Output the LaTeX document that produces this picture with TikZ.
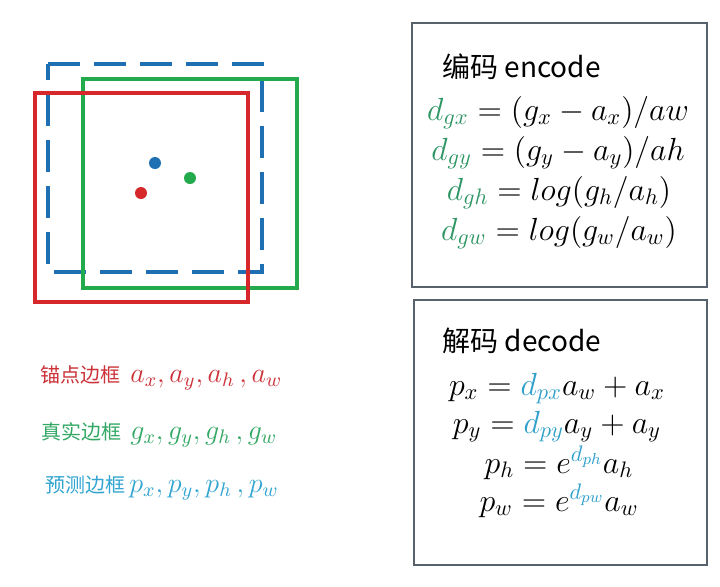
\RequirePackage{fix-cm}
\documentclass[tikz,border=0pt]{standalone}
\usepackage{fontspec}
\newfontfamily\cjk{Noto Sans CJK SC}
\usetikzlibrary{positioning}
\definecolor{anchorcolor}{RGB}{214,40,42}
\definecolor{truthcolor}{RGB}{34,170,76}
\definecolor{predcolor}{RGB}{30,112,178}
\definecolor{anchortext}{RGB}{204,50,56}
\definecolor{truthtext}{RGB}{50,168,100}
\definecolor{predtext}{RGB}{50,165,208}
\definecolor{encgreen}{RGB}{46,150,100}
\definecolor{decblue}{RGB}{46,160,202}
\definecolor{bordercolor}{RGB}{88,98,108}
\tikzset{
    anchorbox/.style={draw=anchorcolor, line width=2pt},
    truthbox/.style={draw=truthcolor, line width=2pt},
    predbox/.style={draw=predcolor, line width=2pt, dash pattern=on 16pt off 7pt},
    centre/.style={circle, inner sep=0pt, minimum size=6pt},
    panel/.style={draw=bordercolor, line width=1pt},
    heading/.style={font=\cjk\fontsize{14}{17}\selectfont, anchor=base west, inner sep=0pt},
    formula/.style={font=\fontsize{16}{19}\selectfont, anchor=base, inner sep=0pt},
    legend/.style={font=\cjk\fontsize{10}{12}\selectfont, anchor=base west, inner sep=0pt},
    varlist/.style={font=\fontsize{14}{17}\selectfont, anchor=base west, inner sep=0pt}
}

\begin{document}
\begin{tikzpicture}[x=0.5pt, y=-0.5pt]
    \useasboundingbox[fill=white] (0,0) rectangle (720,586);

    % Boxes
    \draw[predbox] (48,64) -- (262,64) -- (262,272) -- (48,272) -- cycle;
    \draw[truthbox] (83,79) rectangle (297,288);
    \draw[anchorbox] (35,93) rectangle (248,302);

    % Centres
    \node[centre, fill=predcolor] (predc) at (155,163) {};
    \node[centre, fill=truthcolor] (truthc) at (190,178) {};
    \node[centre, fill=anchorcolor] (anchorc) at (141,193) {};

    % Legend
    \node[legend, text=anchortext] (anchorlbl) at (40,382) {锚点边框};
    \node[varlist, text=anchortext] (anchorvar) at (130,382) {$a_x, a_y, a_h\,, a_w$};
    \node[legend, text=truthtext] (truthlbl) at (41,439) {真实边框};
    \node[varlist, text=truthtext] (truthvar) at (130,439) {$g_x, g_y, g_h\,, g_w$};
    \node[legend, text=predtext] (predlbl) at (45,492) {预测边框};
    \node[varlist, text=predtext] (predvar) at (129,492) {$p_x, p_y, p_h\,, p_w$};

    % Encode
    \draw[panel] (412,23) rectangle (707,287);
    \node[heading] (enctitle) at (442,77) {编码 encode};
    \node[formula] (encx) at (558,120) {$\color{encgreen}d_{gx}\color{black} = (g_x - a_x)/aw$};
    \node[formula] (ency) at (558,160) {$\color{encgreen}d_{gy}\color{black} = (g_y - a_y)/ah$};
    \node[formula] (ench) at (559,200) {$\color{encgreen}d_{gh}\color{black} = log(g_h/a_h)$};
    \node[formula] (encw) at (559,240) {$\color{encgreen}d_{gw}\color{black} = log(g_w/a_w)$};

    % Decode
    \draw[panel] (414,300) rectangle (707,565);
    \node[heading] (dectitle) at (442,351) {解码 decode};
    \node[formula] (decx) at (557,395) {$p_x = {\color{decblue}d_{px}}a_w + a_x$};
    \node[formula] (decy) at (557,433) {$p_y = {\color{decblue}d_{py}}a_y + a_y$};
    \node[formula] (dech) at (559,473) {$p_h = e^{\color{decblue}d_{ph}}a_h$};
    \node[formula] (decw) at (559,511) {$p_w = e^{\color{decblue}d_{pw}}a_w$};
\end{tikzpicture}
\end{document}
